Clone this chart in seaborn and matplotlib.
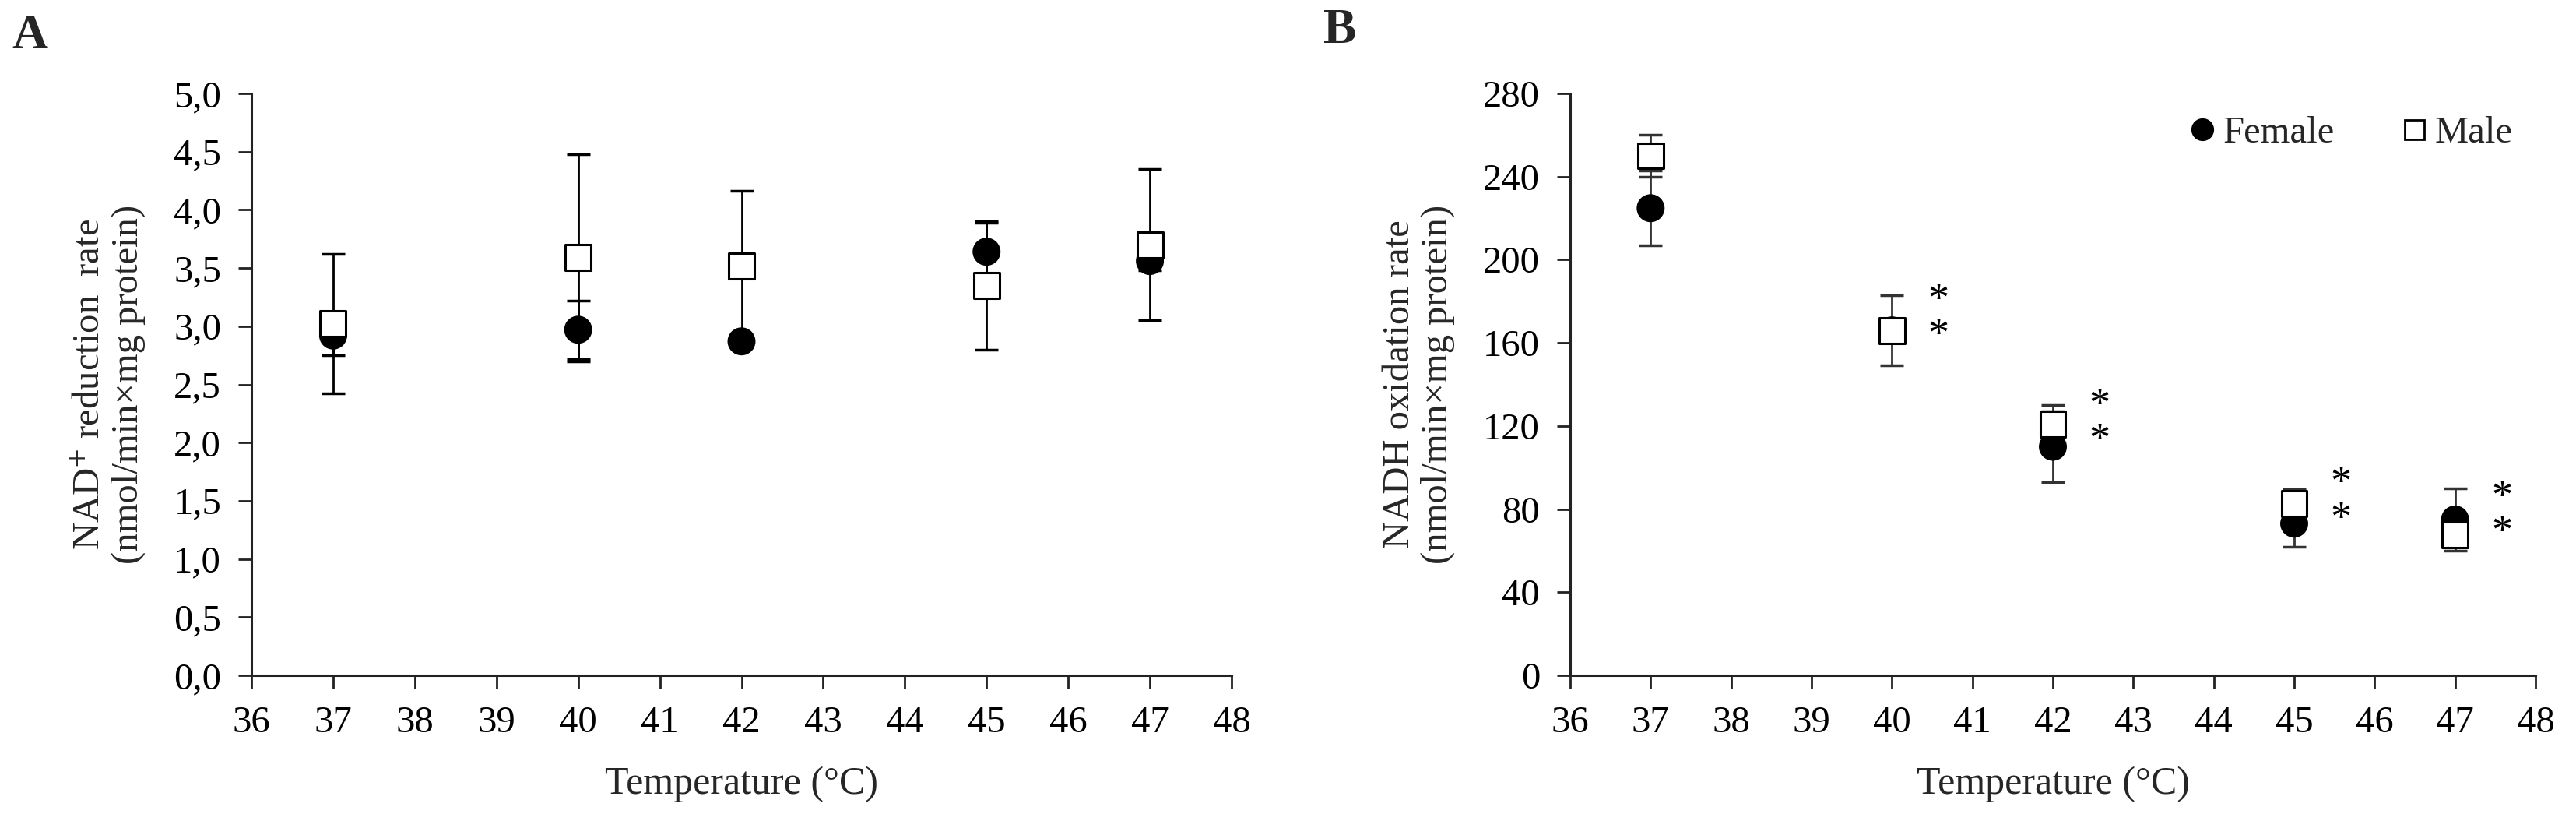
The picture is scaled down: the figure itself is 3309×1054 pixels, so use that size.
import numpy as np
import pandas as pd
import matplotlib
matplotlib.use("Agg")
import matplotlib.pyplot as plt
from matplotlib.lines import Line2D
from matplotlib.ticker import FuncFormatter, MultipleLocator
import seaborn as sns

# ---------------- data ----------------
temps = [37, 40, 42, 45, 47]

a_female = [2.92, 2.97, 2.87, 3.64, 3.56]
a_female_sd = [0.17, 0.25, 0.05, 0.25, 0.08]
a_male = [3.02, 3.59, 3.52, 3.35, 3.70]
a_male_sd = [0.60, 0.89, 0.64, 0.55, 0.65]

b_female = [224.8, 166.0, 110.0, 73.0, 75.0]
b_female_sd = [18.0, 5.0, 17.0, 11.0, 15.0]
b_male = [250.0, 166.0, 121.0, 82.5, 67.5]
b_male_sd = [10.0, 17.0, 9.0, 7.0, 5.0]

b_sig_temps = [40, 42, 45, 47]

sexes = ["Female", "Male"]
a_ylabel = "NAD$^{+}$ reduction  rate\n(nmol/min×mg protein)"
b_ylabel = "NADH oxidation rate\n(nmol/min×mg protein)"
xlabel = "Temperature (°C)"

# ---------------- style ----------------
sns.set_theme(style="ticks")
plt.rcParams["font.family"] = ["Liberation Serif", "DejaVu Serif"]
plt.rcParams["mathtext.fontset"] = "stix"

FS = 35
W, H, DPI = 3309, 1054, 100
fig = plt.figure(figsize=(W / DPI, H / DPI), dpi=DPI)
fig.patch.set_facecolor("white")

axA = fig.add_axes([323 / W, 1 - 867 / H, (1582 - 323) / W, (867 - 120) / H])
axB = fig.add_axes([2017 / W, 1 - 867 / H, (3257 - 2017) / W, (867 - 120) / H])


def long_df(f, m):
    return pd.DataFrame({
        "temp": temps + temps,
        "value": list(f) + list(m),
        "sex": ["Female"] * len(temps) + ["Male"] * len(temps),
    })


def draw(ax, f, fsd, m, msd, ecol):
    ax.errorbar(temps, f, yerr=fsd, fmt="none", ecolor=ecol, elinewidth=2.0,
                capsize=11, capthick=2.5, zorder=1)
    ax.errorbar(temps, m, yerr=msd, fmt="none", ecolor=ecol, elinewidth=2.0,
                capsize=11, capthick=2.5, zorder=1)
    df = long_df(f, m)
    sns.scatterplot(data=df, x="temp", y="value", hue="sex", style="sex",
                    hue_order=sexes, style_order=sexes,
                    palette={"Female": "black", "Male": "white"},
                    markers={"Female": "o", "Male": "s"},
                    s=560, edgecolor="black", linewidth=2.2,
                    legend=False, ax=ax, zorder=3)


draw(axA, a_female, a_female_sd, a_male, a_male_sd, "black")
draw(axB, b_female, b_female_sd, b_male, b_male_sd, "#333333")

for ax in (axA, axB):
    sns.despine(ax=ax)
    ax.set_xlim(36, 48)
    ax.xaxis.set_major_locator(MultipleLocator(1))
    for s in ("left", "bottom"):
        ax.spines[s].set_linewidth(2.2)
        ax.spines[s].set_color("#222222")
    ax.tick_params(axis="both", direction="out", length=12, width=2.0,
                   color="#222222", labelsize=FS, pad=16, labelcolor="black")
    ax.set_xlabel(xlabel, fontsize=FS + 1, labelpad=24)
    ax.grid(False)
    ax.set_facecolor("white")

axA.set_ylim(0, 5)
axA.yaxis.set_major_locator(MultipleLocator(0.5))
axA.yaxis.set_major_formatter(FuncFormatter(lambda v, p: f"{v:.1f}".replace(".", ",")))
axA.set_ylabel(a_ylabel, fontsize=FS, labelpad=26, linespacing=1.15)

axB.set_ylim(0, 280)
axB.yaxis.set_major_locator(MultipleLocator(40))
axB.set_ylabel(b_ylabel, fontsize=FS, labelpad=26, linespacing=1.15)

# significance asterisks
for t in b_sig_temps:
    i = temps.index(t)
    mid = (b_female[i] + b_male[i]) / 2
    for dy in (14, -3):
        axB.text(t + 0.58, mid + dy, "*", fontsize=FS + 4, ha="center",
                 va="center", color="black", zorder=4)

# legend
handles = [
    Line2D([], [], linestyle="none", marker="o", markersize=20,
           markerfacecolor="black", markeredgecolor="black"),
    Line2D([], [], linestyle="none", marker="s", markersize=18,
           markerfacecolor="white", markeredgecolor="black", markeredgewidth=2),
]
axB.legend(handles, sexes, loc="upper right", bbox_to_anchor=(1.0, 1.0),
           ncol=2, frameon=False, fontsize=FS, handletextpad=0.05,
           columnspacing=1.6, handlelength=1.0, borderaxespad=0.2)

# panel letters
fig.text(15 / W, 1 - 47 / H, "A", fontsize=46, fontweight="bold", va="center", ha="left")
fig.text(1700 / W, 1 - 40 / H, "B", fontsize=46, fontweight="bold", va="center", ha="left")

fig.savefig("out.png", dpi=DPI, facecolor="white")
